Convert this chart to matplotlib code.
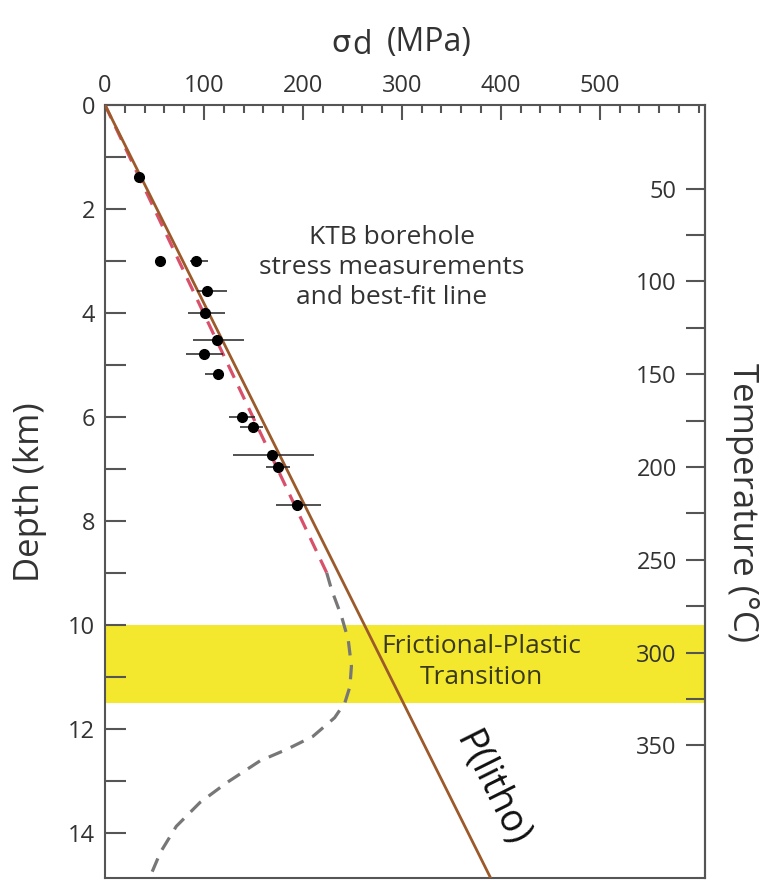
import numpy as np
import matplotlib
matplotlib.use("Agg")
import matplotlib.pyplot as plt
from matplotlib.ticker import MultipleLocator, FixedLocator

plt.rcParams['font.family'] = ['Open Sans', 'DejaVu Sans']

# KTB borehole stress measurements (MPa, km)
stress = [34.6, 55.5, 92, 103.4, 101, 112.8, 100, 113.8, 138.7, 149.8, 168.4, 174.4, 194.3]
depth = [1.38, 3.01, 3.01, 3.57, 4.01, 4.52, 4.79, 5.17, 6.01, 6.2, 6.73, 6.97, 7.69]
err_lo = [34.6, 55.5, 86, 92.6, 83.5, 89.2, 81.5, 101, 125.6, 136.4, 129, 163, 172.7]
err_hi = [34.6, 55.5, 104, 123.5, 121.2, 140.4, 118.9, 120.2, 151.5, 160, 211, 186.9, 217.9]

# lithostatic pressure line
litho_depth = [0, 15]
litho_stress = [0, 393]

# best-fit line (red dashed) and extrapolated strength profile (grey dashed)
fit_depth = [0, 9.0]
fit_stress = [0, 224]
ext_depth = [9.0, 9.33, 9.84, 10.29, 10.8, 11.19, 11.5, 11.79, 12.15, 12.4, 12.62,
             13.04, 13.42, 13.88, 14.38, 14.85, 15.0]
ext_stress = [224, 229, 239, 245.8, 249, 247.5, 242.4, 232, 210, 183.5, 156.6,
              123, 96, 72, 56, 45.5, 43]

# frictional-plastic transition band (km)
fpt_top, fpt_bottom = 10.0, 11.5

# temperature axis
temp_major = [50, 100, 150, 200, 250, 300, 350]
temp_minor = [75, 125, 175, 225, 275, 325]


def d2t(d):
    return 5 + 28.0 * np.asarray(d)


spine_c = '#555555'
text_c = '#333333'

fig = plt.figure(figsize=(7.61, 8.80), dpi=100)
ax = fig.add_axes([0.138, 0.0025, 0.788, 0.8782])

ax.axhspan(fpt_top, fpt_bottom, color='#f3e82e', zorder=0, lw=0)

ax.plot(ext_stress, ext_depth, color='#777777', ls=(0, (4.5, 3)), lw=2.3, zorder=2)
ax.plot(fit_stress, fit_depth, color='#d9506a', ls=(0, (4.5, 3)), lw=2.3, zorder=2)
ax.plot(litho_stress, litho_depth, color='#9c5a2a', lw=2.0, zorder=3)

xerr = [np.array(stress) - np.array(err_lo), np.array(err_hi) - np.array(stress)]
ax.errorbar(stress, depth, xerr=xerr, fmt='o', color='black', ms=7,
            elinewidth=1.1, ecolor='#222222', capsize=0, zorder=4)

ax.set_xlim(0, 606)
ax.set_ylim(14.87, 0)

ax.xaxis.tick_top()
ax.xaxis.set_minor_locator(MultipleLocator(20))
ax.set_xticks([0, 100, 200, 300, 400, 500])
ax.yaxis.set_major_locator(MultipleLocator(2))
ax.yaxis.set_minor_locator(MultipleLocator(1))
ax.tick_params(axis='x', which='major', direction='in', length=11, width=1.5,
               color=spine_c, labelsize=17, labelcolor=text_c, pad=5)
ax.tick_params(axis='x', which='minor', direction='in', length=6, width=1.5,
               color=spine_c)
ax.tick_params(axis='y', which='both', direction='in', length=15, width=1.5,
               color=spine_c, labelsize=17, labelcolor=text_c, pad=7)
ax.tick_params(right=False, which='both')
for s in ax.spines.values():
    s.set_color(spine_c)
    s.set_linewidth(1.5)

# temperature scale drawn on a twin axis, ticks pointing into the plot
ax2 = ax.twinx()
ax2.set_ylim(d2t(14.87), d2t(0))
ax2.spines['left'].set_position(('axes', 1.0))
ax2.spines['left'].set_visible(True)
ax2.spines['left'].set_color(spine_c)
ax2.spines['left'].set_linewidth(1.5)
for k in ['right', 'top', 'bottom']:
    ax2.spines[k].set_visible(False)
ax2.yaxis.set_ticks_position('left')
ax2.yaxis.set_label_position('left')
ax2.yaxis.set_major_locator(FixedLocator(temp_major))
ax2.yaxis.set_minor_locator(FixedLocator(temp_minor))
ax2.tick_params(axis='y', which='both', direction='out', length=14, width=1.5,
                color=spine_c, labelsize=17, labelcolor=text_c, pad=6)

ax.text(290, 3.13, 'KTB borehole\nstress measurements\nand best-fit line',
        ha='center', va='center', fontsize=19, color=text_c, linespacing=1.25,
        zorder=5)
ax.text(380, 10.72, 'Frictional-Plastic\nTransition', ha='center', va='center',
        fontsize=19, color='#3a3a1a', linespacing=1.35, zorder=5)
ax.text(391, 13.17, 'P(litho)', ha='center', va='center', rotation=-63.5,
        fontsize=27, color='#111111', zorder=5)

# axis title: sigma with a slightly lowered, full-size "d"
fig.text(341 / 761, 1 - 44 / 880, 'σ', ha='center', va='center',
         fontsize=22, color=text_c, family='DejaVu Sans')
fig.text(362 / 761, 1 - 46 / 880, 'd', ha='center', va='center',
         fontsize=23, color=text_c)
fig.text(429 / 761, 1 - 42 / 880, '(MPa)', ha='center', va='center',
         fontsize=23, color=text_c)
fig.text(30 / 761, 1 - 492 / 880, 'Depth (km)', rotation=90, ha='center',
         va='center', fontsize=25, color=text_c)
fig.text(742 / 761, 1 - 502 / 880, 'Temperature (°C)', rotation=-90,
         ha='center', va='center', fontsize=25, color=text_c)

fig.savefig('out.png', dpi=100)
